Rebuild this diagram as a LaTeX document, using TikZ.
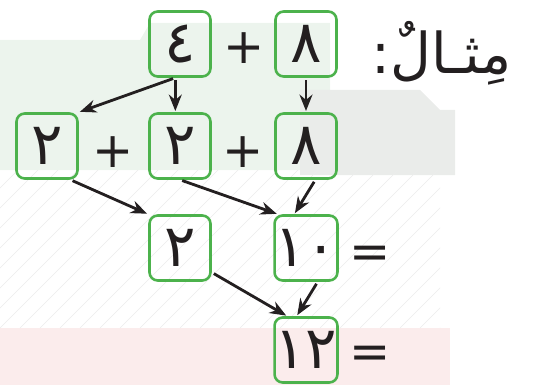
\documentclass[tikz,border=0pt]{standalone}
\usepackage{fontspec}
\newfontfamily\arabicfont[Script=Arabic]{DejaVu Sans}
\TeXXeTstate=1
\usetikzlibrary{arrows.meta, backgrounds}
\usepackage{xcolor}
\definecolor{boxgreen}{RGB}{76,178,76}
\definecolor{ink}{RGB}{35,31,32}
\definecolor{washgreen}{RGB}{236,244,237}
\definecolor{washgray}{RGB}{234,236,234}
\definecolor{washred}{RGB}{251,236,236}
\tikzstyle{digit} = [draw=boxgreen, line width=2.2pt, rounded corners=7pt, minimum width=1.83cm, minimum height=1.95cm, inner sep=0pt, text=ink, font=\arabicfont\fontsize{50}{54}\selectfont]
\tikzstyle{sign} = [text=ink, inner sep=0pt, font=\arabicfont\fontsize{42}{46}\selectfont]
\tikzstyle{flow} = [line width=2.4pt, draw=ink, -{Stealth[length=14pt,width=11pt]}, shorten <=2pt, shorten >=1pt]

\begin{document}
\begin{tikzpicture}[x=0.03cm, y=0.03cm]
	\useasboundingbox (0,0) rectangle (559,385);
	%faded flag behind
	\fill[washgreen] (0,345) -- (140,345) -- (150,362) -- (330,362) -- (330,215) -- (0,215) -- cycle;
	\fill[washgray] (300,295) -- (420,295) -- (440,275) -- (455,275) -- (455,210) -- (300,210) -- cycle;
	\fill[washred] (0,57) -- (450,57) -- (450,0) -- (0,0) -- cycle;
	\begin{scope}
		\clip (0,57) rectangle (440,215);
		\foreach \i in {-200,-180,...,440}
			\draw[gray!15, line width=0.4pt] (\i,57) -- ++(160,160);
	\end{scope}

	%Row 1
	\node[digit] (topfour) at (180,341) {٤};
	\node[sign] (plusa) at (244,337) {+};
	\node[digit] (topeight) at (306,341) {٨};
	\node[anchor=east, inner sep=0pt, text=ink, font=\arabicfont\fontsize{48}{52}\selectfont] (title) at (512,332) {\beginR مِثـالٌ:\endR};
	%Row 2
	\node[digit] (splittwo) at (47,239) {٢};
	\node[sign] (plusb) at (113,233) {+};
	\node[digit] (keeptwo) at (180,239) {٢};
	\node[sign] (plusc) at (243,233) {+};
	\node[digit] (keepeight) at (306,239) {٨};
	%Row 3
	\node[digit] (resttwo) at (180,137) {٢};
	\node[digit] (ten) at (306,137) {١٠};
	\node[sign] (eqa) at (370,128) {=};
	%Row 4
	\node[digit] (twelve) at (306,35) {١٢};
	\node[sign] (eqb) at (370,28) {=};

	%arrows
	\draw[flow] ([xshift=-4]topfour.south) -- (splittwo.north east);
	\draw[flow] ([xshift=-4]topfour.south) -- ([xshift=-4]keeptwo.north);
	\draw[flow] (topeight.south) -- (keepeight.north);
	\draw[flow] ([xshift=20]splittwo.south) -- (resttwo.north west);
	\draw[flow] (keeptwo.south) -- ([xshift=-24]ten.north);
	\draw[flow] ([xshift=8]keepeight.south) -- ([xshift=-10]ten.north);
	\draw[flow] ([yshift=8]resttwo.south east) -- ([xshift=-16]twelve.north);
	\draw[flow] ([xshift=10]ten.south) -- ([xshift=-8]twelve.north);
\end{tikzpicture}
\end{document}
